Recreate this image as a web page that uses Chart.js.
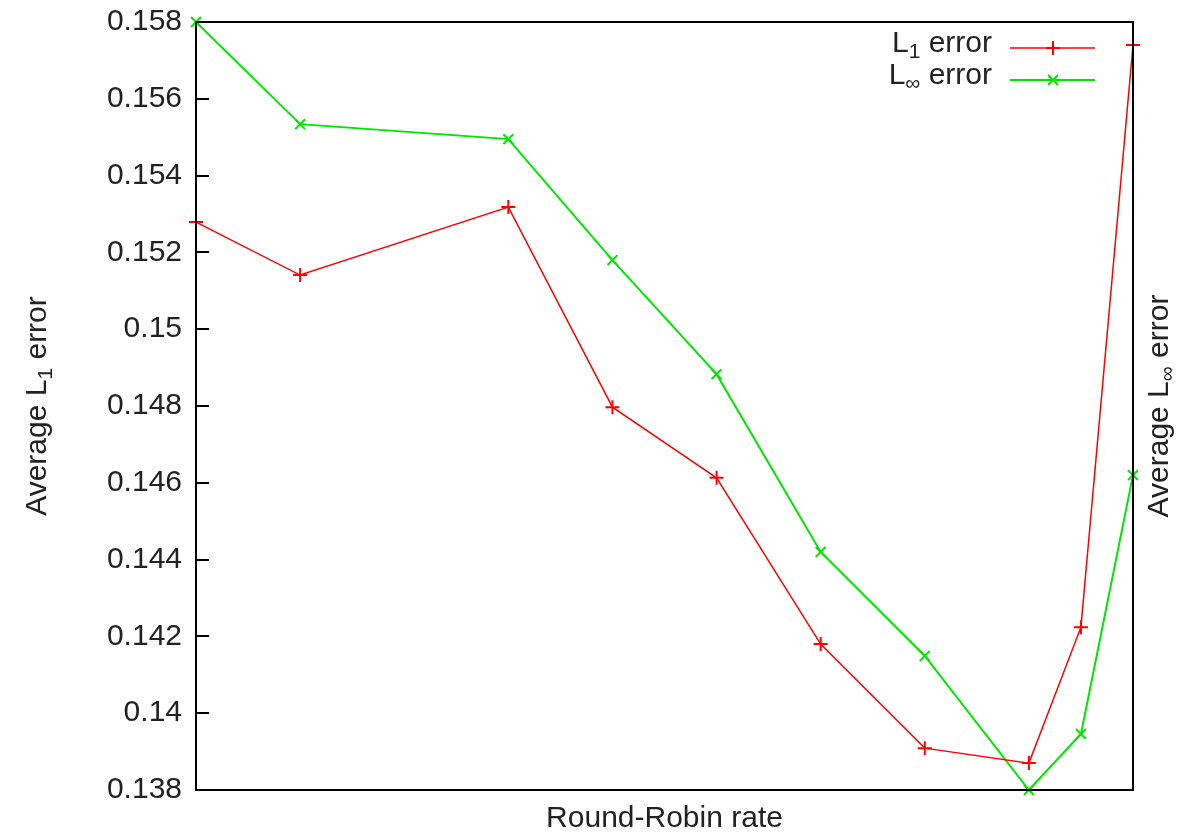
<!DOCTYPE html>
<html>
<head>
<meta charset="utf-8">
<script src="https://cdn.jsdelivr.net/npm/chart.js@4.4.1/dist/chart.umd.min.js"></script>
<style>
  html, body { margin: 0; padding: 0; background: #fff; }
  #wrap { width: 1178px; height: 837px; }
</style>
</head>
<body>
<div id="wrap"><canvas id="c" width="1178" height="837"></canvas></div>
<script>
// round-robin rate (x has no tick labels in the original)
const rates = [0, 1, 3, 4, 5, 6, 7, 8, 8.5, 9];
const l1_error = [0.15279, 0.15141, 0.15318, 0.14797, 0.14613, 0.14180, 0.13909, 0.13870, 0.14224, 0.15740];
const linf_error = [0.15800, 0.15534, 0.15495, 0.15180, 0.14883, 0.14420, 0.14149, 0.13800, 0.13946, 0.14620];
const y_ticks = [0.138, 0.140, 0.142, 0.144, 0.146, 0.148, 0.150, 0.152, 0.154, 0.156, 0.158];

const FONT = '"Liberation Sans", Arial, sans-serif';
const RED = 'rgb(255, 0, 0)';
const GREEN = 'rgb(0, 230, 0)';

const toPoints = (ys) => ys.map((y, i) => ({ x: rates[i], y: y }));

// text with a subscript part, e.g. L + "1"
function drawSub(ctx, parts, x, y, align) {
    let w = 0;
    parts.forEach(p => {
        ctx.font = (p.sub ? '21px ' : '30px ') + FONT;
        w += ctx.measureText(p.t).width;
    });
    let cx = align === 'right' ? x - w : (align === 'center' ? x - w / 2 : x);
    parts.forEach(p => {
        ctx.font = (p.sub ? '21px ' : '30px ') + FONT;
        ctx.fillText(p.t, cx, p.sub ? y + 8 : y);
        cx += ctx.measureText(p.t).width;
    });
}

const framePlugin = {
    id: 'frame',
    afterDraw(chart) {
        const ctx = chart.ctx;
        const a = chart.chartArea;
        const ys = chart.scales.y;
        ctx.save();
        ctx.strokeStyle = '#000';
        ctx.lineWidth = 2;
        ctx.strokeRect(a.left, a.top, a.right - a.left, a.bottom - a.top);
        // inward ticks on the left axis
        ctx.beginPath();
        ys.ticks.forEach(t => {
            const py = Math.round(ys.getPixelForValue(t.value));
            ctx.moveTo(a.left, py);
            ctx.lineTo(a.left + 13, py);
        });
        ctx.stroke();

        // axis titles
        ctx.fillStyle = '#222';
        ctx.textBaseline = 'middle';
        const midY = (a.top + a.bottom) / 2;
        ctx.save();
        ctx.translate(38, midY);
        ctx.rotate(-Math.PI / 2);
        drawSub(ctx, [{ t: 'Average L' }, { t: '1', sub: true }, { t: ' error' }], 0, 0, 'center');
        ctx.restore();
        ctx.save();
        ctx.translate(1160, midY);
        ctx.rotate(-Math.PI / 2);
        drawSub(ctx, [{ t: 'Average L' }, { t: '\u221E', sub: true }, { t: ' error' }], 0, 0, 'center');
        ctx.restore();

        // legend
        const rows = [
            { parts: [{ t: 'L' }, { t: '1', sub: true }, { t: ' error' }], ds: 0, y: 48 },
            { parts: [{ t: 'L' }, { t: '\u221E', sub: true }, { t: ' error' }], ds: 1, y: 80 }
        ];
        rows.forEach(r => {
            const ds = chart.data.datasets[r.ds];
            ctx.fillStyle = '#222';
            drawSub(ctx, r.parts, 992, r.y - 4, 'right');
            ctx.strokeStyle = ds.borderColor;
            ctx.lineWidth = ds.borderWidth;
            ctx.beginPath();
            ctx.moveTo(1010, r.y);
            ctx.lineTo(1095, r.y);
            ctx.stroke();
            ctx.strokeStyle = ds.borderColor;
            ctx.lineWidth = 2;
            Chart.helpers.drawPoint(ctx, {
                pointStyle: ds.pointStyle, radius: ds.pointRadius, borderWidth: 2, rotation: 0
            }, 1053, r.y);
        });
        ctx.restore();
    }
};

const chart = new Chart(document.getElementById('c').getContext('2d'), {
    type: 'line',
    data: {
        datasets: [
            {
                label: 'L1 error',
                data: toPoints(l1_error),
                borderColor: RED,
                backgroundColor: RED,
                borderWidth: 1.5,
                pointStyle: 'cross',
                pointRadius: 7,
                pointBorderWidth: 2,
                tension: 0
            },
            {
                label: 'Linf error',
                data: toPoints(linf_error),
                borderColor: GREEN,
                backgroundColor: GREEN,
                borderWidth: 2,
                pointStyle: 'crossRot',
                pointRadius: 7,
                pointBorderWidth: 2,
                tension: 0
            }
        ]
    },
    options: {
        responsive: false,
        animation: false,
        clip: false,
        layout: { padding: { top: 22, right: 45, left: 0, bottom: 0 } },
        plugins: {
            legend: { display: false },
            tooltip: { enabled: false }
        },
        scales: {
            x: {
                type: 'linear',
                min: 0,
                max: 9,
                grid: { display: false, drawTicks: false },
                border: { display: false },
                ticks: { display: false },
                title: {
                    display: true,
                    text: 'Round-Robin rate',
                    color: '#222',
                    font: { family: FONT, size: 30 },
                    padding: { top: 12, bottom: 0 }
                },
                afterFit(scale) { scale.height = 47; }
            },
            y: {
                min: 0.138,
                max: 0.158,
                afterBuildTicks(scale) {
                    scale.ticks = y_ticks.map(v => ({ value: v }));
                },
                grid: { display: false, drawTicks: false },
                border: { display: false },
                ticks: {
                    color: '#222',
                    padding: 14,
                    font: { family: FONT, size: 30 },
                    callback: (v) => String(Number(v.toFixed(3)))
                },
                afterFit(scale) {
                    scale.width = 196;
                    scale.paddingTop = 0;
                    scale.paddingBottom = 0;
                }
            }
        }
    },
    plugins: [framePlugin]
});
</script>
</body>
</html>
